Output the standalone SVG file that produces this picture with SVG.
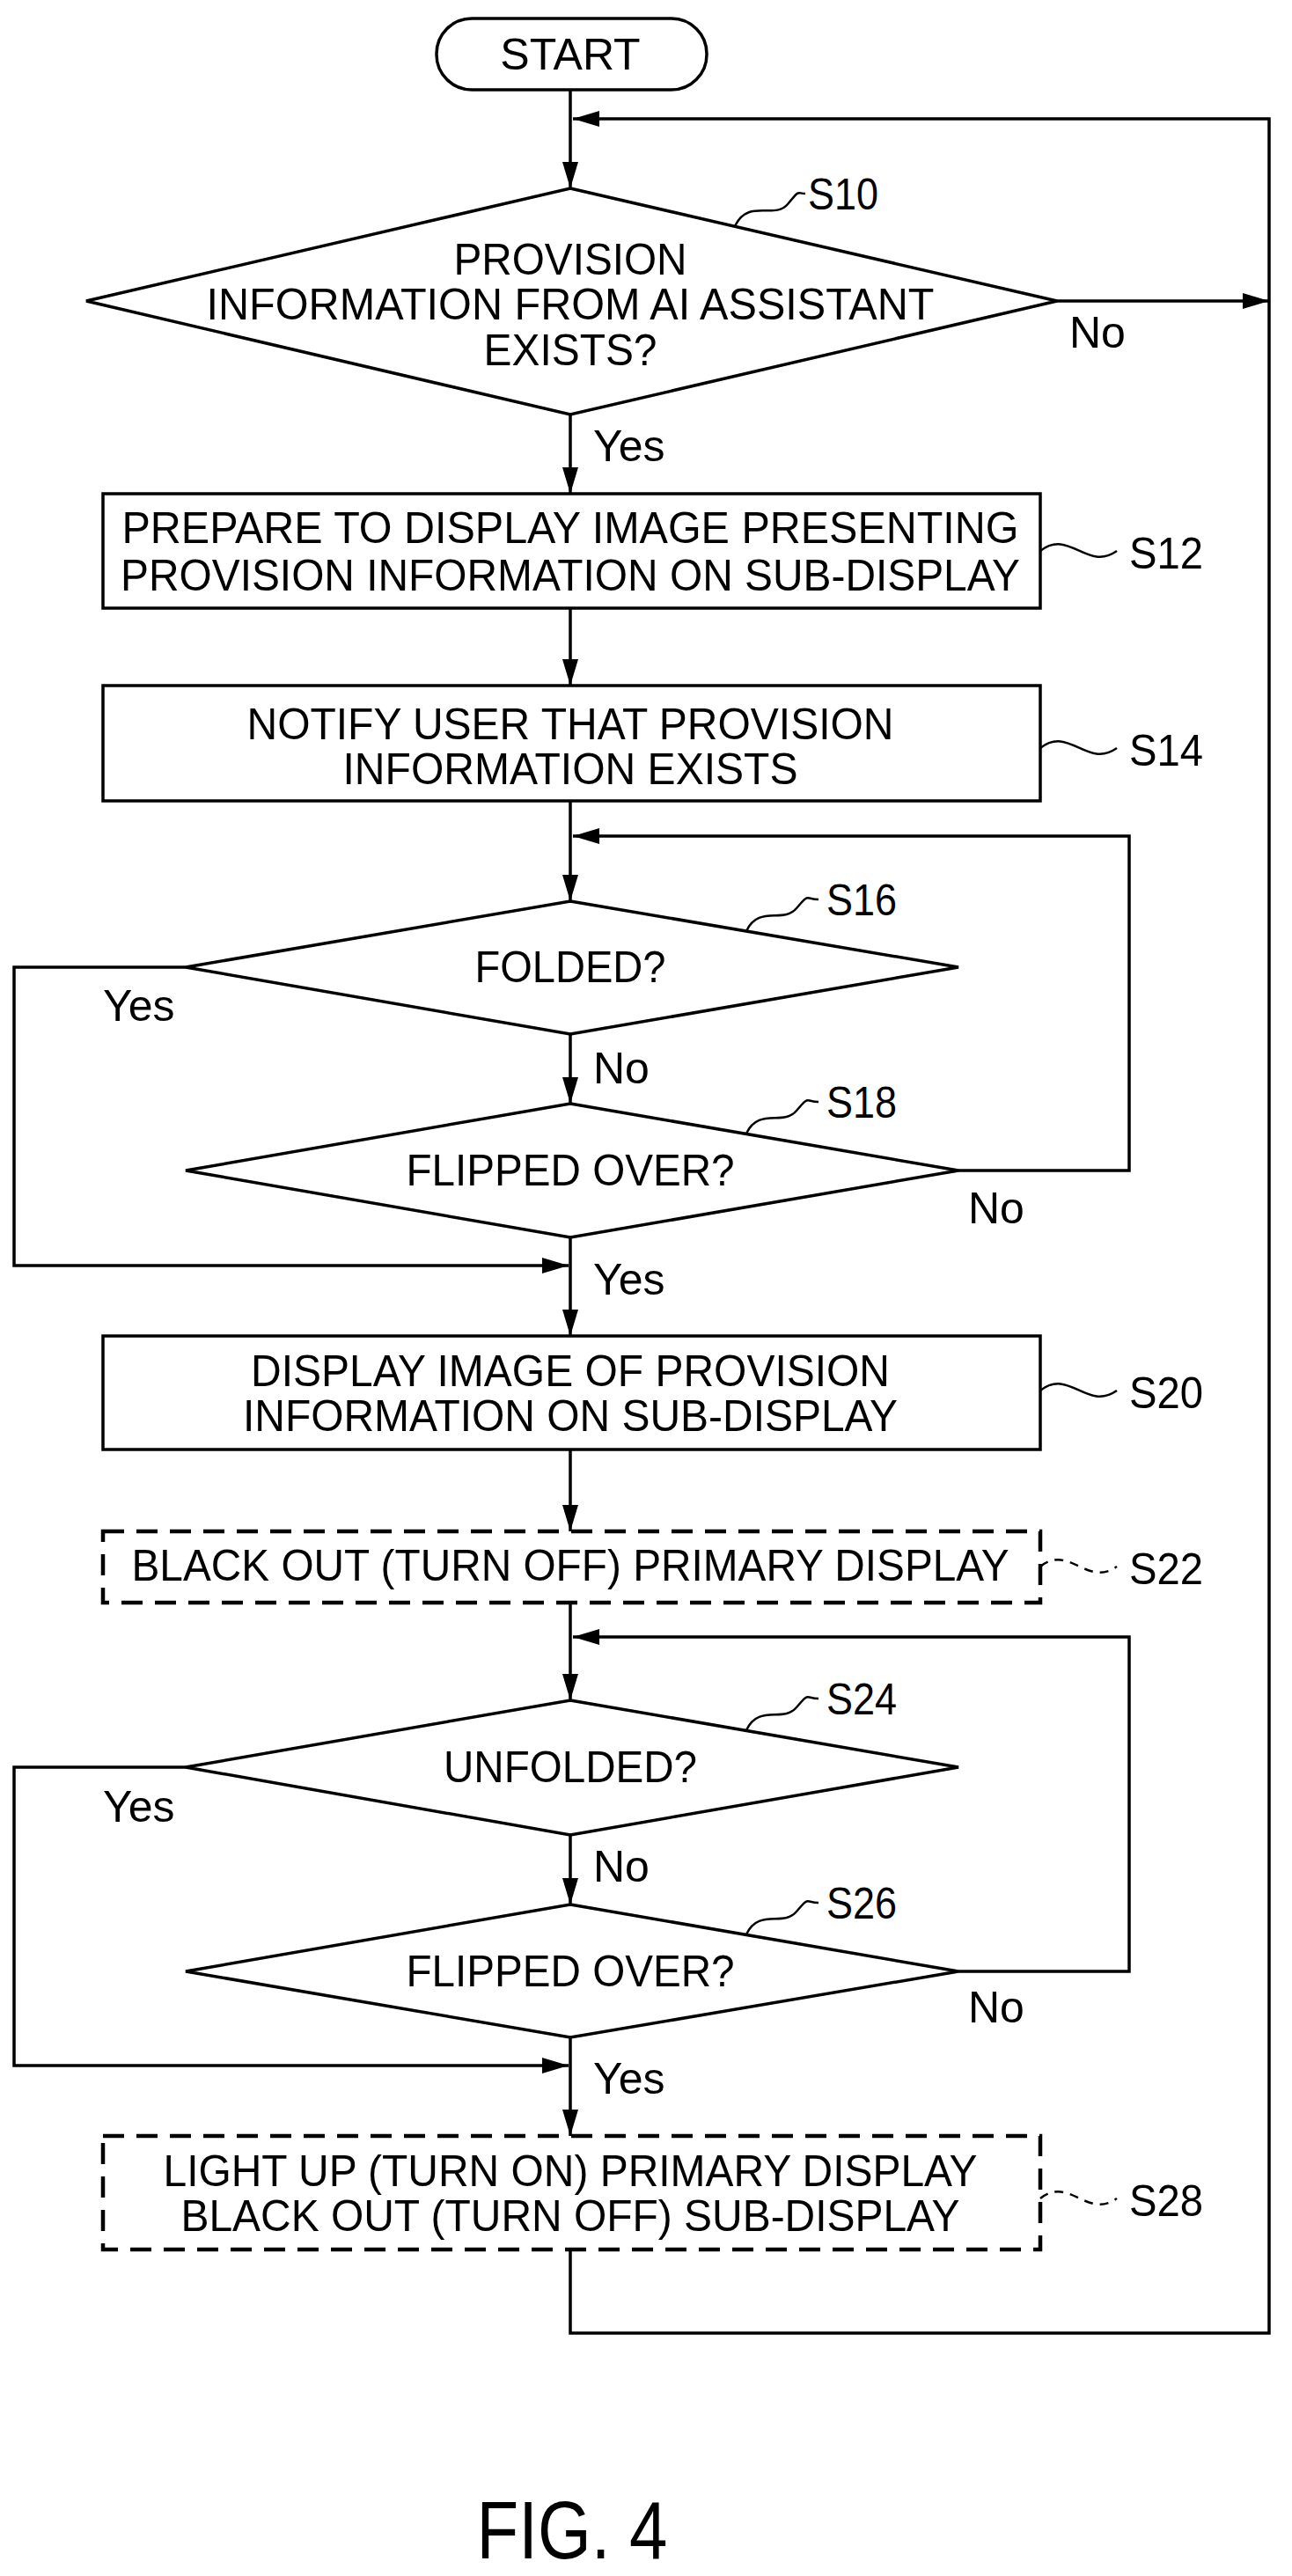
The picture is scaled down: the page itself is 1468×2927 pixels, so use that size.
<svg xmlns="http://www.w3.org/2000/svg" width="1468" height="2927" viewBox="0 0 1468 2927">
<style>
.s{fill:none;stroke:#000;stroke-width:3.5}
.n{fill:#fff;stroke:#000;stroke-width:3.5}
.d{fill:#fff;stroke:#000;stroke-width:4.5;stroke-dasharray:24 14}
.l{fill:none;stroke:#000;stroke-width:2.5}
.ld{fill:none;stroke:#000;stroke-width:2.5;stroke-dasharray:10 8}
text{font-family:"Liberation Sans",Arial,sans-serif;font-size:50px;fill:#000}
.c{text-anchor:middle}
</style>
<defs>
<marker id="a" viewBox="0 0 10 10" refX="10" refY="5" markerWidth="10" markerHeight="10" markerUnits="userSpaceOnUse" orient="auto">
<path d="M0,0 L10,5 L0,10 z" fill="#000"/>
</marker>
<marker id="b" viewBox="0 0 10 10" refX="10" refY="5" markerWidth="30" markerHeight="18" markerUnits="userSpaceOnUse" orient="auto" preserveAspectRatio="none">
<path d="M0,0 L10,5 L0,10 z" fill="#000"/>
</marker>
</defs>
<g id="connectors">
<path class="s" d="M648,102 V214" marker-end="url(#b)"/>
<path class="s" d="M648,2556 V2651 H1442 V135 H651" marker-end="url(#b)"/>
<path class="s" d="M1201,342 H1442" marker-end="url(#b)"/>
<path class="s" d="M648,471 V561" marker-end="url(#b)"/>
<path class="s" d="M648,691 V779" marker-end="url(#b)"/>
<path class="s" d="M648,910 V1024" marker-end="url(#b)"/>
<path class="s" d="M1089,1330 H1283 V950 H651" marker-end="url(#b)"/>
<path class="s" d="M648,1175 V1254" marker-end="url(#b)"/>
<path class="s" d="M211,1099 H16 V1438 H646" marker-end="url(#b)"/>
<path class="s" d="M648,1406 V1518" marker-end="url(#b)"/>
<path class="s" d="M648,1647 V1740" marker-end="url(#b)"/>
<path class="s" d="M648,1821 V1932" marker-end="url(#b)"/>
<path class="s" d="M1089,2240 H1283 V1860 H651" marker-end="url(#b)"/>
<path class="s" d="M648,2085 V2164" marker-end="url(#b)"/>
<path class="s" d="M211,2008 H16 V2347 H646" marker-end="url(#b)"/>
<path class="s" d="M648,2315 V2427" marker-end="url(#b)"/>
<text x="1215" y="395">No</text>
<text x="674" y="524">Yes</text>
<text x="117" y="1160">Yes</text>
<text x="674" y="1231">No</text>
<text x="1100" y="1390">No</text>
<text x="674" y="1471">Yes</text>
<text x="117" y="2070">Yes</text>
<text x="674" y="2138">No</text>
<text x="1100" y="2298">No</text>
<text x="674" y="2379">Yes</text>
</g>
<g id="start">
<rect class="n" x="496" y="21" width="307" height="81" rx="40"/>
<text class="c" x="648" y="79">START</text>
</g>
<g id="S10">
<path class="n" d="M648,214 L1201,342 L648,471 L98,342 z"/>
<text class="c" x="648" y="312" textLength="265" lengthAdjust="spacingAndGlyphs">PROVISION</text>
<text class="c" x="648" y="363" textLength="827" lengthAdjust="spacingAndGlyphs">INFORMATION FROM AI ASSISTANT</text>
<text class="c" x="648" y="415" textLength="197" lengthAdjust="spacingAndGlyphs">EXISTS?</text>
<path class="l" d="M835,257 C850,225 880,250 895,232 S905,220 915,220"/>
<text x="918" y="238" textLength="80" lengthAdjust="spacingAndGlyphs">S10</text>
</g>
<g id="S12">
<rect class="n" x="117" y="561" width="1065" height="130"/>
<text class="c" x="648" y="617" textLength="1019" lengthAdjust="spacingAndGlyphs">PREPARE TO DISPLAY IMAGE PRESENTING</text>
<text class="c" x="648" y="671" textLength="1022" lengthAdjust="spacingAndGlyphs">PROVISION INFORMATION ON SUB-DISPLAY</text>
<path class="l" d="M1182,626 C1215,600 1235,650 1269,626"/>
<text x="1283" y="646" textLength="84" lengthAdjust="spacingAndGlyphs">S12</text>
</g>
<g id="S14">
<rect class="n" x="117" y="779" width="1065" height="131"/>
<text class="c" x="648" y="840" textLength="735" lengthAdjust="spacingAndGlyphs">NOTIFY USER THAT PROVISION</text>
<text class="c" x="648" y="891" textLength="517" lengthAdjust="spacingAndGlyphs">INFORMATION EXISTS</text>
<path class="l" d="M1182,850 C1215,824 1235,874 1269,850"/>
<text x="1283" y="870" textLength="84" lengthAdjust="spacingAndGlyphs">S14</text>
</g>
<g id="S16">
<path class="n" d="M648,1024 L1089,1099 L648,1175 L211,1099 z"/>
<text class="c" x="648" y="1116" textLength="217" lengthAdjust="spacingAndGlyphs">FOLDED?</text>
<path class="l" d="M848,1058 C862,1028 890,1050 905,1032 S915,1022 930,1022"/>
<text x="939" y="1040" textLength="80" lengthAdjust="spacingAndGlyphs">S16</text>
</g>
<g id="S18">
<path class="n" d="M648,1254 L1089,1330 L648,1406 L211,1330 z"/>
<text class="c" x="648" y="1347" textLength="373" lengthAdjust="spacingAndGlyphs">FLIPPED OVER?</text>
<path class="l" d="M848,1288 C862,1258 890,1280 905,1262 S915,1252 930,1252"/>
<text x="939" y="1270" textLength="80" lengthAdjust="spacingAndGlyphs">S18</text>
</g>
<g id="S20">
<rect class="n" x="117" y="1518" width="1065" height="129"/>
<text class="c" x="648" y="1575" textLength="726" lengthAdjust="spacingAndGlyphs">DISPLAY IMAGE OF PROVISION</text>
<text class="c" x="648" y="1626" textLength="744" lengthAdjust="spacingAndGlyphs">INFORMATION ON SUB-DISPLAY</text>
<path class="l" d="M1182,1580 C1215,1554 1235,1604 1269,1580"/>
<text x="1283" y="1600" textLength="84" lengthAdjust="spacingAndGlyphs">S20</text>
</g>
<g id="S22">
<rect class="d" x="117" y="1740" width="1065" height="81"/>
<text class="c" x="648" y="1796" textLength="997" lengthAdjust="spacingAndGlyphs">BLACK OUT (TURN OFF) PRIMARY DISPLAY</text>
<path class="ld" d="M1182,1780 C1215,1754 1235,1804 1269,1780"/>
<text x="1283" y="1800" textLength="84" lengthAdjust="spacingAndGlyphs">S22</text>
</g>
<g id="S24">
<path class="n" d="M648,1932 L1089,2008 L648,2085 L211,2008 z"/>
<text class="c" x="648" y="2025" textLength="288" lengthAdjust="spacingAndGlyphs">UNFOLDED?</text>
<path class="l" d="M848,1966 C862,1936 890,1958 905,1940 S915,1930 930,1930"/>
<text x="939" y="1948" textLength="80" lengthAdjust="spacingAndGlyphs">S24</text>
</g>
<g id="S26">
<path class="n" d="M648,2164 L1089,2240 L648,2315 L211,2240 z"/>
<text class="c" x="648" y="2257" textLength="373" lengthAdjust="spacingAndGlyphs">FLIPPED OVER?</text>
<path class="l" d="M848,2198 C862,2168 890,2190 905,2172 S915,2162 930,2162"/>
<text x="939" y="2180" textLength="80" lengthAdjust="spacingAndGlyphs">S26</text>
</g>
<g id="S28">
<rect class="d" x="117" y="2427" width="1065" height="129"/>
<text class="c" x="648" y="2484" textLength="925" lengthAdjust="spacingAndGlyphs">LIGHT UP (TURN ON) PRIMARY DISPLAY</text>
<text class="c" x="648" y="2535" textLength="885" lengthAdjust="spacingAndGlyphs">BLACK OUT (TURN OFF) SUB-DISPLAY</text>
<path class="ld" d="M1182,2498 C1215,2472 1235,2522 1269,2498"/>
<text x="1283" y="2518" textLength="84" lengthAdjust="spacingAndGlyphs">S28</text>
</g>
<text class="c" x="650" y="2907" style="font-size:92px" textLength="217" lengthAdjust="spacingAndGlyphs">FIG. 4</text>
</svg>
